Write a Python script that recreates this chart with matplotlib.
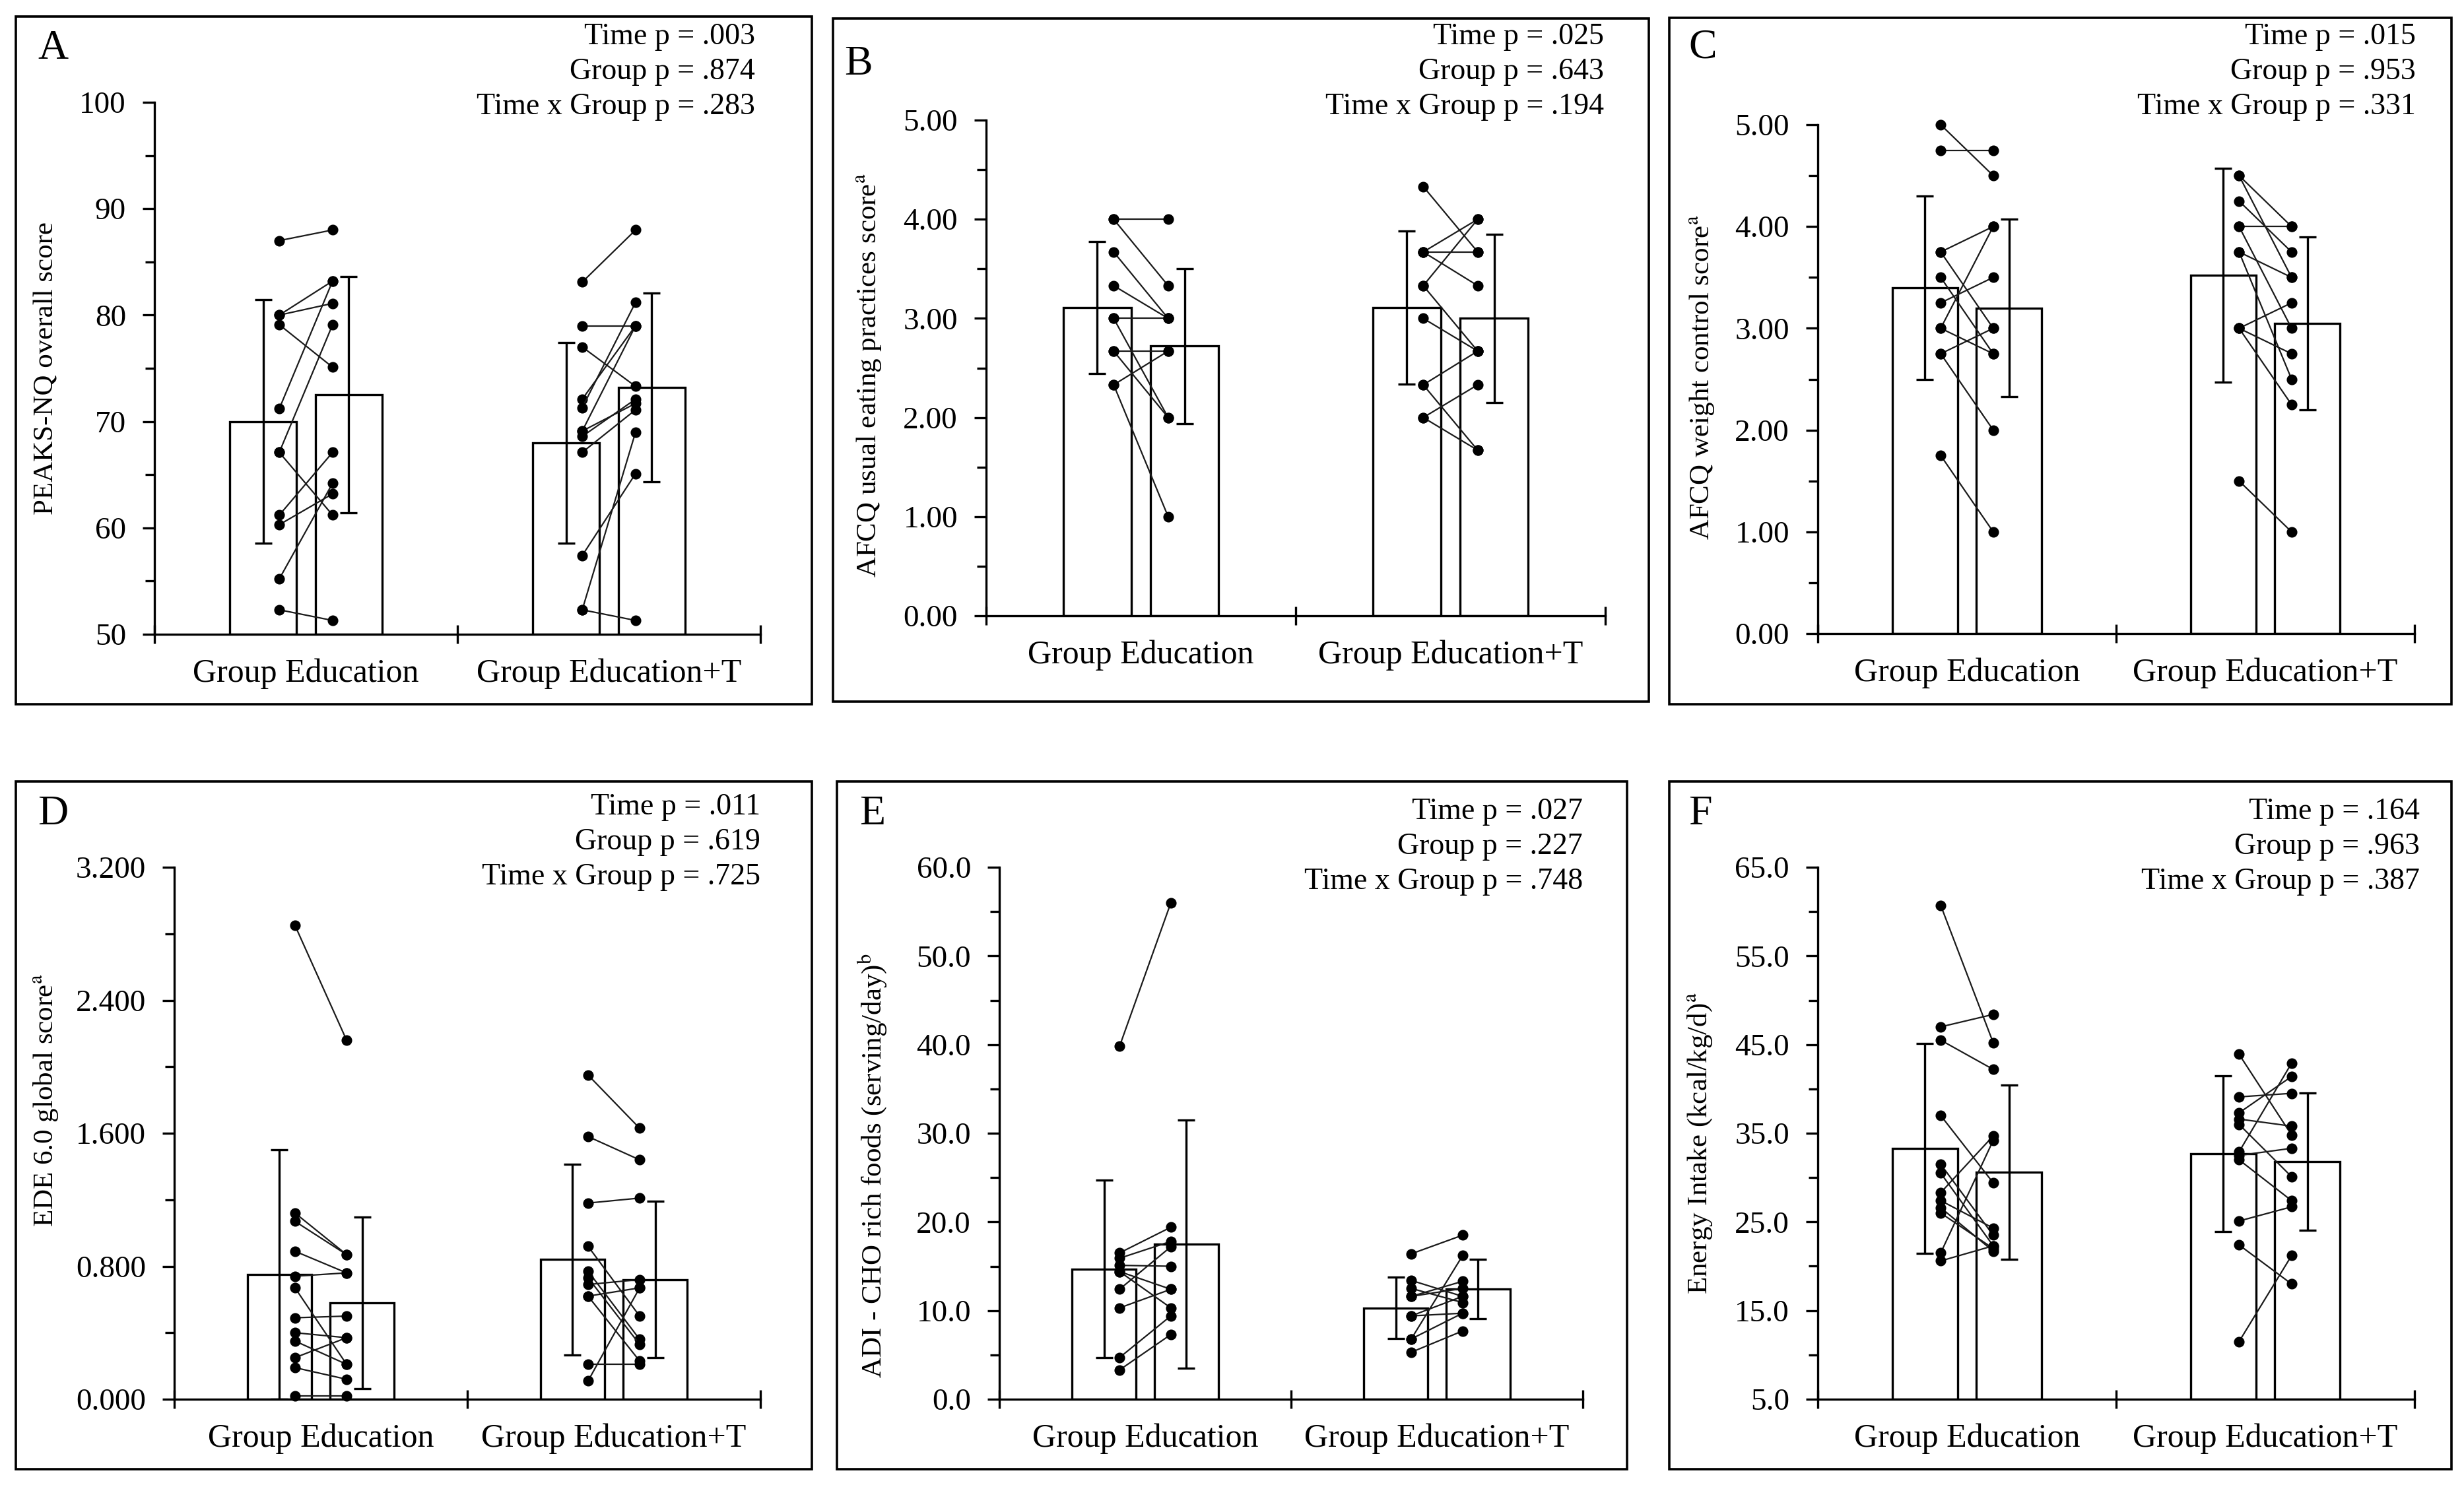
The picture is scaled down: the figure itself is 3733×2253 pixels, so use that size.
import matplotlib
matplotlib.use("Agg")
import matplotlib.pyplot as plt
from matplotlib.patches import Rectangle
from matplotlib.ticker import MultipleLocator, FormatStrFormatter

plt.rcParams["font.family"] = ["Liberation Serif", "DejaVu Serif"]
plt.rcParams["mathtext.fontset"] = "stix"

GROUPS = ["Group Education", "Group Education+T"]

# ---- panel A: PEAKS-NQ ----
A_GE_PRE = [87.0, 80.0, 80.0, 79.1, 71.2, 67.1, 67.1, 61.2, 60.3, 55.2, 52.3]
A_GE_POST = [88.0, 83.2, 81.1, 75.1, 83.2, 79.1, 61.2, 67.1, 63.2, 64.2, 51.3]
A_GET_PRE = [83.1, 79.0, 77.0, 72.1, 71.3, 69.1, 68.6, 69.1, 67.1, 57.4, 52.3, 52.3]
A_GET_POST = [88.0, 79.0, 73.3, 79.0, 81.2, 79.0, 72.1, 71.7, 71.1, 65.1, 69.0, 51.3]
A_MEAN = [70.0, 72.5, 68.0, 73.2]
A_SD = [11.45, 11.1, 9.45, 8.9]
A_P = ["Time p = .003", "Group p = .874", "Time x Group p = .283"]

# ---- panel B: AFCQ usual eating practices ----
B_GE_PRE = [4.0, 4.0, 3.67, 3.33, 3.0, 3.0, 2.67, 2.67, 2.33, 2.33]
B_GE_POST = [4.0, 3.33, 3.0, 3.0, 3.0, 2.0, 2.67, 2.0, 2.67, 1.0]
B_GET_PRE = [4.33, 3.67, 3.67, 3.67, 3.33, 3.33, 3.0, 2.33, 2.33, 2.0, 2.0]
B_GET_POST = [3.67, 3.67, 4.0, 3.33, 4.0, 2.67, 2.67, 2.67, 1.67, 2.33, 1.67]
B_MEAN = [3.11, 2.72, 3.11, 3.00]
B_SD = [0.665, 0.785, 0.77, 0.85]
B_P = ["Time p = .025", "Group p = .643", "Time x Group p = .194"]

# ---- panel C: AFCQ weight control ----
C_GE_PRE = [5.0, 4.75, 3.75, 3.75, 3.5, 3.25, 3.0, 3.0, 2.75, 2.75, 1.75]
C_GE_POST = [4.5, 4.75, 4.0, 3.0, 2.75, 3.5, 4.0, 2.75, 3.0, 2.0, 1.0]
C_GET_PRE = [4.5, 4.5, 4.25, 4.0, 4.0, 3.75, 3.75, 3.0, 3.0, 3.0, 1.5]
C_GET_POST = [4.0, 3.5, 3.75, 4.0, 3.0, 3.5, 2.5, 3.25, 2.75, 2.25, 1.0]
C_MEAN = [3.40, 3.20, 3.52, 3.05]
C_SD = [0.90, 0.87, 1.05, 0.85]
C_P = ["Time p = .015", "Group p = .953", "Time x Group p = .331"]

# ---- panel D: EDE 6.0 ----
D_GE_PRE = [2.85, 1.12, 1.07, 0.89, 0.74, 0.67, 0.49, 0.40, 0.35, 0.25, 0.19, 0.02]
D_GE_POST = [2.16, 0.87, 0.87, 0.76, 0.76, 0.21, 0.50, 0.37, 0.21, 0.37, 0.12, 0.02]
D_GET_PRE = [1.95, 1.58, 1.18, 0.92, 0.77, 0.73, 0.69, 0.62, 0.62, 0.21, 0.11]
D_GET_POST = [1.63, 1.44, 1.21, 0.50, 0.36, 0.33, 0.72, 0.23, 0.67, 0.21, 0.67]
D_MEAN = [0.75, 0.58, 0.84, 0.72]
D_SD = [0.75, 0.515, 0.575, 0.47]
D_P = ["Time p = .011", "Group p = .619", "Time x Group p = .725"]

# ---- panel E: ADI CHO rich foods ----
E_GE_PRE = [39.8, 16.5, 15.9, 15.1, 14.4, 14.4, 12.4, 10.3, 4.7, 3.3]
E_GE_POST = [56.0, 19.4, 17.8, 15.0, 10.3, 12.4, 17.2, 12.4, 9.4, 7.3]
E_GET_PRE = [16.4, 13.4, 12.5, 11.6, 11.6, 9.4, 9.4, 6.8, 6.8, 5.3]
E_GET_POST = [18.5, 11.6, 10.9, 13.3, 12.5, 9.7, 11.6, 16.2, 9.7, 7.7]
E_MEAN = [14.7, 17.5, 10.3, 12.4]
E_SD = [10.0, 14.0, 3.45, 3.35]
E_P = ["Time p = .027", "Group p = .227", "Time x Group p = .748"]

# ---- panel F: energy intake ----
F_GE_PRE = [60.7, 47.0, 45.5, 37.0, 31.5, 30.5, 28.3, 27.4, 26.6, 26.0, 21.5, 20.6]
F_GE_POST = [45.2, 48.4, 42.2, 29.4, 23.5, 22.3, 34.7, 24.3, 21.7, 22.0, 34.2, 22.3]
F_GET_PRE = [43.9, 39.1, 37.3, 36.6, 36.0, 32.9, 32.5, 32.0, 25.1, 22.4, 11.5]
F_GET_POST = [34.8, 39.5, 41.4, 35.8, 30.1, 42.9, 33.3, 27.4, 26.7, 18.0, 21.2]
F_MEAN = [33.3, 30.6, 32.7, 31.8]
F_SD = [11.85, 9.8, 8.8, 7.75]
F_P = ["Time p = .164", "Group p = .963", "Time x Group p = .387"]

YLABELS = {
    "A": "PEAKS-NQ overall score",
    "B": r"AFCQ usual eating practices score$^{\mathrm{a}}$",
    "C": r"AFCQ weight control score$^{\mathrm{a}}$",
    "D": r"EDE 6.0 global score$^{\mathrm{a}}$",
    "E": r"ADI - CHO rich foods (serving/day)$^{\mathrm{b}}$",
    "F": r"Energy Intake (kcal/kg/d)$^{\mathrm{a}}$",
}

W, H = 3733, 2253

# layout in pixels of the final image
LAYOUT = {
    "A": dict(box=(24, 25, 1230, 1067), ax=(234, 155, 1152, 961), letter=(80, 74),
              ptxt=(1144, 56), ylab=(70, 558)),
    "B": dict(box=(1262, 28, 2498, 1063), ax=(1494, 182, 2432, 933), letter=(1300, 98),
              ptxt=(2430, 56), ylab=(1316, 568)),
    "C": dict(box=(2529, 27, 3714, 1067), ax=(2754, 189, 3658, 960), letter=(2580, 72),
              ptxt=(3660, 56), ylab=(2578, 572)),
    "D": dict(box=(24, 1184, 1230, 2226), ax=(264, 1314, 1152, 2120), letter=(80, 1234),
              ptxt=(1152, 1223), ylab=(70, 1667)),
    "E": dict(box=(1268, 1184, 2465, 2226), ax=(1514, 1314, 2398, 2120), letter=(1322, 1234),
              ptxt=(2398, 1230), ylab=(1322, 1766)),
    "F": dict(box=(2529, 1184, 3714, 2226), ax=(2754, 1314, 3658, 2120), letter=(2576, 1234),
              ptxt=(3666, 1230), ylab=(2576, 1732)),
}

# y scale: limits, major step, minor step, tick offset, label format
SCALES = {
    "A": dict(ylim=(50, 100), major=10, minor=5, offset=0, fmt="%d"),
    "B": dict(ylim=(0, 5), major=1, minor=0.5, offset=0, fmt="%.2f"),
    "C": dict(ylim=(0, 5), major=1, minor=0.5, offset=0, fmt="%.2f"),
    "D": dict(ylim=(0, 3.2), major=0.8, minor=0.4, offset=0, fmt="%.3f"),
    "E": dict(ylim=(0, 60), major=10, minor=5, offset=0, fmt="%.1f"),
    "F": dict(ylim=(5, 65), major=10, minor=5, offset=5, fmt="%.1f"),
}

DATA = {
    "A": (A_GE_PRE, A_GE_POST, A_GET_PRE, A_GET_POST, A_MEAN, A_SD, A_P),
    "B": (B_GE_PRE, B_GE_POST, B_GET_PRE, B_GET_POST, B_MEAN, B_SD, B_P),
    "C": (C_GE_PRE, C_GE_POST, C_GET_PRE, C_GET_POST, C_MEAN, C_SD, C_P),
    "D": (D_GE_PRE, D_GE_POST, D_GET_PRE, D_GET_POST, D_MEAN, D_SD, D_P),
    "E": (E_GE_PRE, E_GE_POST, E_GET_PRE, E_GET_POST, E_MEAN, E_SD, E_P),
    "F": (F_GE_PRE, F_GE_POST, F_GET_PRE, F_GET_POST, F_MEAN, F_SD, F_P),
}

LW = 1.2
BAR_W = 0.22
BAR_OFF = 0.141
PT_OFF = 0.088


def fx(x):
    return x / W


def fy(y):
    return 1 - y / H


def draw_panel(fig, key):
    lay = LAYOUT[key]
    sc = SCALES[key]
    ge_pre, ge_post, get_pre, get_post, means, sds, ptxt = DATA[key]

    x0, y0, x1, y1 = lay["box"]
    fig.add_artist(Rectangle((fx(x0), fy(y1)), fx(x1 - x0), (y1 - y0) / H,
                             transform=fig.transFigure, fill=False, ec="black", lw=1.3))

    ax0, ay0, ax1, ay1 = lay["ax"]
    ax = fig.add_axes([fx(ax0), fy(ay1), fx(ax1 - ax0), (ay1 - ay0) / H])
    lo, hi = sc["ylim"]

    centers = [0.5 - BAR_OFF, 0.5 + BAR_OFF, 1.5 - BAR_OFF, 1.5 + BAR_OFF]
    ax.bar(centers, [m - lo for m in means], bottom=lo, width=BAR_W,
           color="white", edgecolor="black", linewidth=LW, zorder=1)
    ax.errorbar(centers, means, yerr=sds, fmt="none", ecolor="black",
                elinewidth=LW, capsize=4.7, capthick=LW, zorder=2)

    for g, pre, post in ((0.5, ge_pre, ge_post), (1.5, get_pre, get_post)):
        for a, b in zip(pre, post):
            ax.plot([g - PT_OFF, g + PT_OFF], [a, b], "-o", color="#1a1a1a",
                    lw=0.8, ms=4.8, mfc="black", mec="black", zorder=3, clip_on=False)

    ax.set_xlim(0, 2)
    ax.set_ylim(lo, hi)
    ax.yaxis.set_major_locator(MultipleLocator(sc["major"], offset=sc["offset"]))
    ax.yaxis.set_minor_locator(MultipleLocator(sc["minor"], offset=sc["offset"]))
    ax.yaxis.set_major_formatter(FormatStrFormatter(sc["fmt"]))
    ax.set_xticks([0, 1, 2], labels=["", "", ""])
    ax.set_xticks([0.5, 1.5], labels=GROUPS, minor=True)

    for s in ("top", "right"):
        ax.spines[s].set_visible(False)
    for s in ("left", "bottom"):
        ax.spines[s].set_linewidth(LW)

    ax.tick_params(axis="y", which="major", direction="out", length=6.5, width=LW,
                   labelsize=17, pad=9)
    ax.tick_params(axis="y", which="minor", direction="out", length=5, width=LW)
    ax.tick_params(axis="x", which="major", direction="inout", length=10, width=LW)
    ax.tick_params(axis="x", which="minor", length=0, labelsize=18, pad=13)

    lx, ly = lay["letter"]
    fig.text(fx(lx), fy(ly), key, fontsize=23, ha="center", va="center")

    px, py = lay["ptxt"]
    for i, t in enumerate(ptxt):
        fig.text(fx(px), fy(py + i * 53), t, fontsize=16.5, ha="right", va="center")

    yx, yy = lay["ylab"]
    fig.text(fx(yx), fy(yy), YLABELS[key], fontsize=15.5, rotation=90,
             ha="center", va="center")


fig = plt.figure(figsize=(W / 200, H / 200), dpi=200)
fig.patch.set_facecolor("white")
for k in "ABCDEF":
    draw_panel(fig, k)

fig.savefig("out.png", dpi=200)
